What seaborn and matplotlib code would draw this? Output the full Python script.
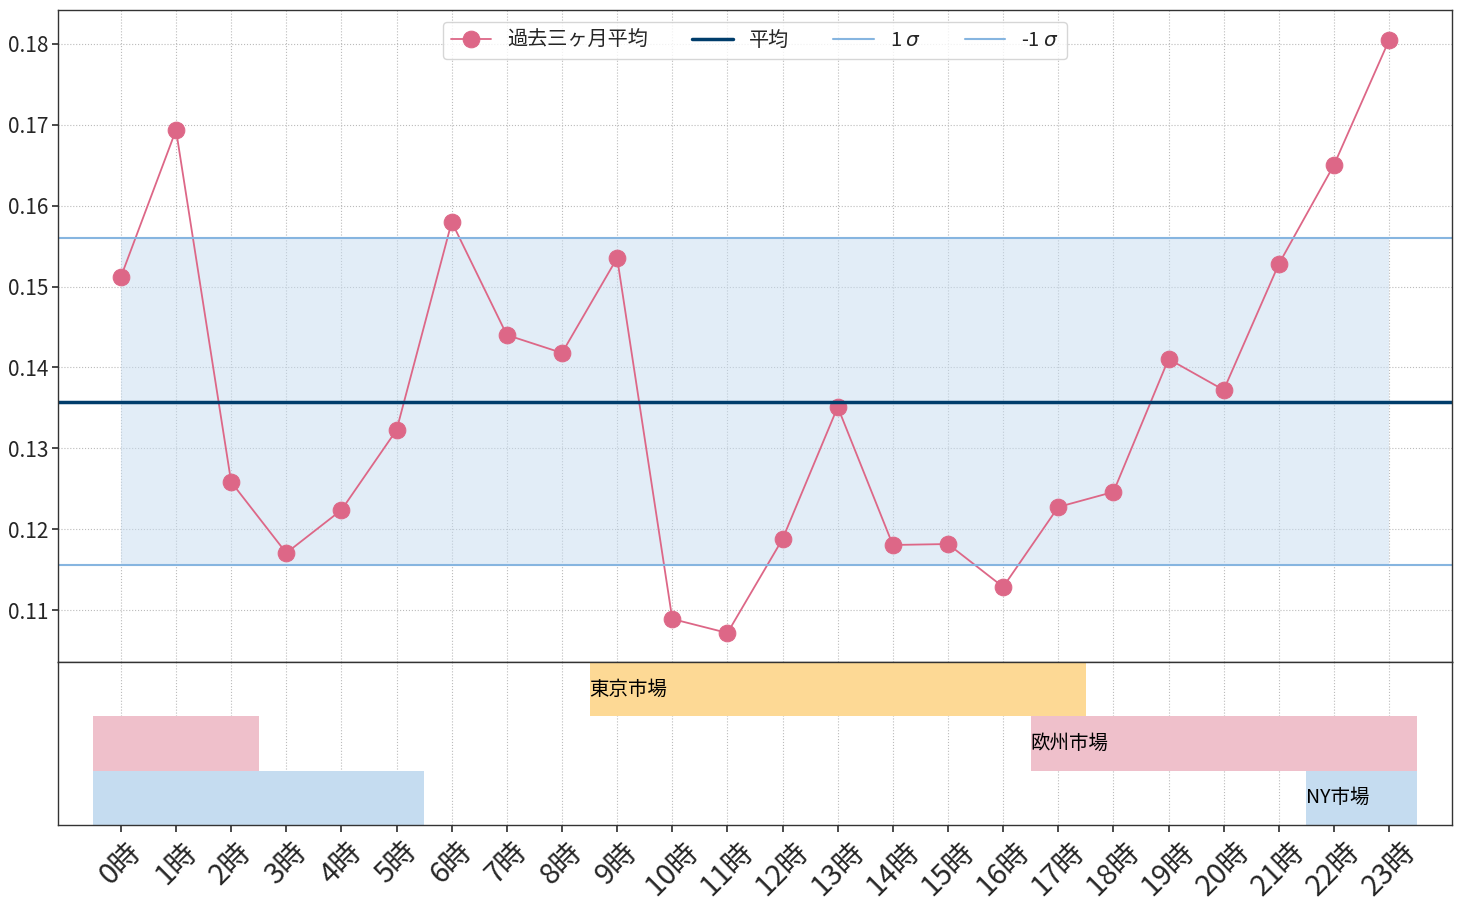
import matplotlib
matplotlib.use("Agg")
import matplotlib.pyplot as plt
import seaborn as sns
import numpy as np
import pandas as pd

hours = list(range(24))
hour_labels = [f"{h}時" for h in hours]
avg3m = [0.15118, 0.16936, 0.12583, 0.11705, 0.12237, 0.13226, 0.15799, 0.14401,
         0.14179, 0.15353, 0.10889, 0.10716, 0.11878, 0.13511, 0.11804, 0.11816,
         0.11285, 0.12274, 0.12460, 0.14104, 0.13721, 0.15279, 0.16504, 0.18049]
mean_val = 0.13573
plus_sigma = 0.15601
minus_sigma = 0.11557
ytick_vals = [0.11, 0.12, 0.13, 0.14, 0.15, 0.16, 0.17, 0.18]

# market sessions
market_names = ["東京市場", "欧州市場", "NY市場"]
market_rows = [2, 1, 0]
market_starts = [[8.5], [16.5, -0.5], [21.5, -0.5]]
market_ends = [[17.5], [23.5, 2.5], [23.5, 5.5]]
market_label_x = [8.5, 16.5, 21.5]
market_colors = ["#fdd995", "#efc0cb", "#c5dcf0"]

sns.set_theme(style="whitegrid")
plt.rcParams['font.family'] = ['Noto Sans CJK JP', 'DejaVu Sans']
plt.rcParams['axes.unicode_minus'] = False

fig = plt.figure(figsize=(14.63, 9.08), dpi=100)
W, H = 1463, 908
ax = fig.add_axes([58 / W, 1 - 662 / H, (1452 - 58) / W, (662 - 10) / H])
ax2 = fig.add_axes([58 / W, 1 - 825 / H, (1452 - 58) / W, (825 - 662) / H], sharex=ax)

df = pd.DataFrame({"hour": hours, "val": avg3m})
line_color = "#dd6787"
sns.lineplot(data=df, x="hour", y="val", ax=ax, color=line_color, marker="o",
             markersize=12, markeredgecolor=line_color, linewidth=1.3, label="過去三ヶ月平均")
ax.axhline(mean_val, color="#003d6b", linewidth=2.5, label="平均")
ax.axhline(plus_sigma, color="#86b5e0", linewidth=1.5, label="1 $\\sigma$")
ax.axhline(minus_sigma, color="#86b5e0", linewidth=1.5, label="-1 $\\sigma$")
ax.fill_between([hours[0], hours[-1]], minus_sigma, plus_sigma, color="#c6dcf0", alpha=0.5, linewidth=0)

ax.set_xlim(-1.14, 24.14)
ax.set_ylim(0.10357, 0.1842)
ax.set_yticks(ytick_vals)
ax.set_yticklabels([f"{v:.2f}" for v in ytick_vals])
ax.set_xlabel("")
ax.set_ylabel("")
ax.tick_params(axis="y", labelsize=15, left=True, length=4, color="#333333", pad=3)
ax.tick_params(axis="x", labelbottom=False, bottom=False)
ax.grid(True, linestyle=":", color="#bbbbbb", linewidth=0.8)
for s in ax.spines.values():
    s.set_color("#333333")
    s.set_linewidth(1.0)
leg = ax.legend(loc="upper center", ncol=4, fontsize=14.5, frameon=True,
                columnspacing=2.2, handlelength=2.0, borderaxespad=0.6)
leg.get_frame().set_edgecolor("#cccccc")

for name, row, starts, ends, lx, c in zip(market_names, market_rows, market_starts,
                                          market_ends, market_label_x, market_colors):
    for s, e in zip(starts, ends):
        ax2.barh(row + 0.5, e - s, left=s, height=1.0, color=c, linewidth=0)
    ax2.text(lx, row + 0.5, name, va="center", ha="left", fontsize=14, color="black")

ax2.set_ylim(0, 3)
ax2.set_yticks([])
ax2.set_xticks(hours)
ax2.set_xticklabels(hour_labels, rotation=45, fontsize=21)
ax2.tick_params(axis="x", bottom=True, length=5, color="#333333")
ax2.grid(True, axis="x", linestyle=":", color="#bbbbbb", linewidth=0.8)
ax2.grid(False, axis="y")
for s in ax2.spines.values():
    s.set_color("#333333")
    s.set_linewidth(1.0)

fig.savefig("out.png", dpi=100)
